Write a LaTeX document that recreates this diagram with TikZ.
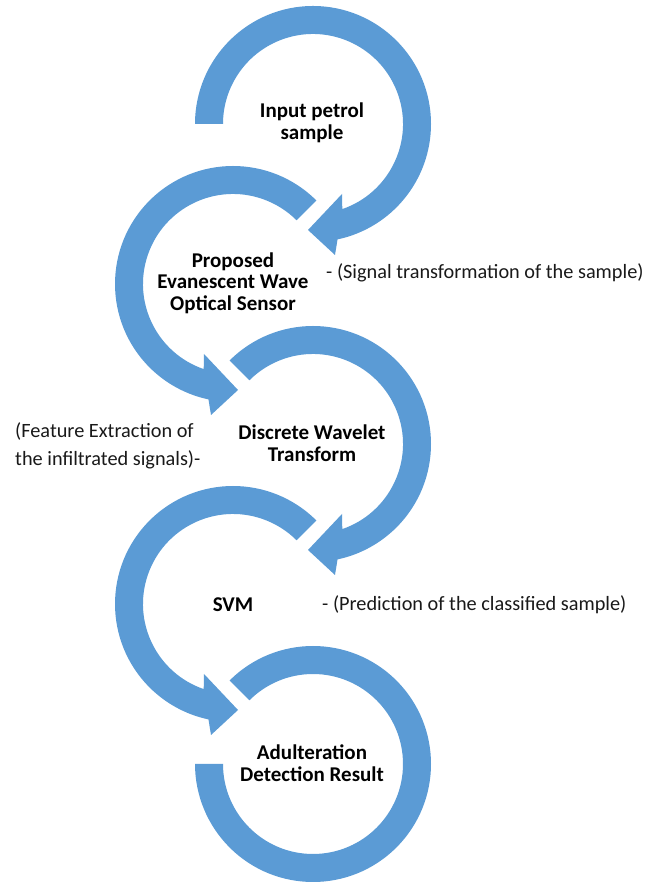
\documentclass[tikz,border=0pt]{standalone}
\usepackage{fontspec}
\setmainfont{Carlito}
\definecolor{ringblue}{RGB}{91,155,213}
\begin{document}
\begin{tikzpicture}[x=1pt,y=1pt,
  ring/.style={fill=ringblue},
  lab/.style={font=\fontsize{21}{21.5}\selectfont\bfseries, align=center, text=black},
  note/.style={font=\fontsize{20.3}{28}\selectfont, align=left, text=black!90, inner sep=0pt}]
\useasboundingbox (0,0) rectangle (651,883);
% circle 1 (clockwise, arrow at bottom)
\fill[ring, shift={(313,759)}] (180:118) arc[start angle=180, end angle=-78, radius=118]
  -- (22,-131) -- (-5,-106) -- (29,-70) -- (-71:90) arc[start angle=-71, end angle=180, radius=90] -- cycle;
% circle 2 (counter-clockwise)
\fill[ring, shift={(233,599)}] (45:118) arc[start angle=45, end angle=258, radius=118]
  -- (-22,-131) -- (5,-106) -- (-29,-70) -- (251:90) arc[start angle=251, end angle=45, radius=90] -- cycle;
% circle 3 (clockwise)
\fill[ring, shift={(313,439)}] (135:118) arc[start angle=135, end angle=-78, radius=118]
  -- (22,-131) -- (-5,-106) -- (29,-70) -- (-71:90) arc[start angle=-71, end angle=135, radius=90] -- cycle;
% circle 4 (counter-clockwise)
\fill[ring, shift={(233,279)}] (45:118) arc[start angle=45, end angle=258, radius=118]
  -- (-22,-131) -- (5,-106) -- (-29,-70) -- (251:90) arc[start angle=251, end angle=45, radius=90] -- cycle;
% circle 5 (no arrow head)
\fill[ring, shift={(313,119)}] (135:118) arc[start angle=135, end angle=-180, radius=118]
  -- (180:90) arc[start angle=-180, end angle=135, radius=90] -- cycle;
% labels
\node[lab] (n1) at (312,760) {Input petrol\\sample};
\node[lab] (n2) at (233,600) {Proposed\\Evanescent Wave\\Optical Sensor};
\node[lab] (n3) at (312,440) {Discrete Wavelet\\Transform};
\node[lab] (n4) at (233,278) {SVM};
\node[lab] (n5) at (312,120) {Adulteration\\Detection Result};
% notes
\node[note, anchor=west] (a1) at (326,610) {- (Signal transformation of the sample)};
\node[note, anchor=west] (a2) at (15,437) {(Feature Extraction of\\the infiltrated signals)-};
\node[note, anchor=west] (a3) at (322,278) {- (Prediction of the classified sample)};
\end{tikzpicture}
\end{document}
